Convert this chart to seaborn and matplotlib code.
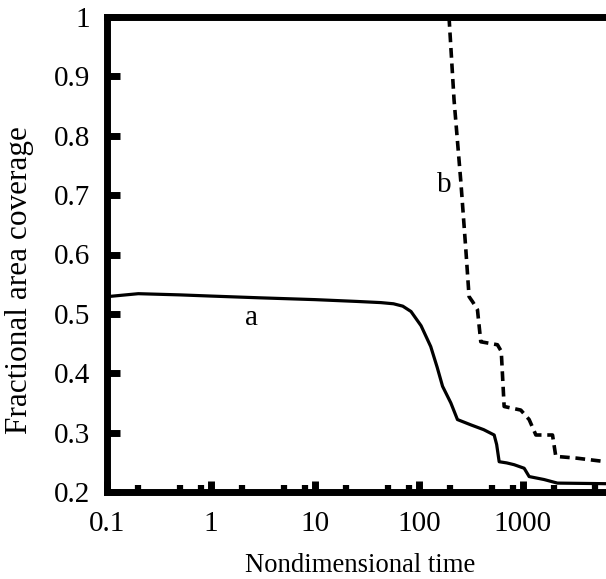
import numpy as np
import pandas as pd
import matplotlib
matplotlib.use("Agg")
import matplotlib.pyplot as plt
import matplotlib.ticker as mticker
import seaborn as sns

# ---- data ----
a_time = [0.1, 0.2, 0.5, 1, 3, 10, 25, 43, 57, 70, 84, 105, 130, 150, 169, 203, 235, 317, 420, 530,
          560, 592, 700, 824, 1030, 1150, 1600, 2150, 6300]
a_cov = [0.529, 0.534, 0.532, 0.530, 0.527, 0.524, 0.521, 0.519, 0.517, 0.513, 0.504, 0.480, 0.445,
         0.410, 0.378, 0.350, 0.322, 0.313, 0.305, 0.296, 0.280, 0.251, 0.249, 0.246, 0.240, 0.226,
         0.221, 0.215, 0.214]

b_time = [195, 218, 254, 283, 304, 330, 366, 394, 570, 620, 661, 955, 1150, 1335, 1930, 2075, 3300, 6300]
b_cov = [1.0, 0.860, 0.720, 0.608, 0.529, 0.520, 0.507, 0.453, 0.448, 0.437, 0.344, 0.338, 0.322,
         0.296, 0.296, 0.260, 0.257, 0.251]

x_ticks = [0.1, 1, 10, 100, 1000]
x_tick_labels = ["0.1", "1", "10", "100", "1000"]
y_ticks = [0.2, 0.3, 0.4, 0.5, 0.6, 0.7, 0.8, 0.9, 1.0]
y_tick_labels = ["0.2", "0.3", "0.4", "0.5", "0.6", "0.7", "0.8", "0.9", "1"]
x_label = "Nondimensional time"
y_label = "Fractional area coverage"

df_a = pd.DataFrame({"t": a_time, "c": a_cov})
df_b = pd.DataFrame({"t": b_time, "c": b_cov})

sns.set_style("ticks")
plt.rcParams["font.family"] = ["Liberation Serif", "DejaVu Serif"]
plt.rcParams["text.color"] = "black"
plt.rcParams["axes.labelcolor"] = "black"
plt.rcParams["xtick.color"] = "black"
plt.rcParams["ytick.color"] = "black"
FS = 21

fig = plt.figure(figsize=(6.06, 5.79), dpi=100)
ax = fig.add_axes([107 / 606, (579 - 492) / 579, (606 - 107) / 606, (492 - 17) / 579])

sns.lineplot(data=df_a, x="t", y="c", ax=ax, color="black", lw=2.3, sort=False, estimator=None)
sns.lineplot(data=df_b, x="t", y="c", ax=ax, color="black", lw=2.6, sort=False, estimator=None)
ax.lines[-1].set_dashes([2.7, 1.6])

ax.set_xscale("log")
ax.set_xlim(0.1, 10 ** 3.8)
ax.set_ylim(0.2, 1.0)

ax.xaxis.set_major_locator(mticker.FixedLocator(x_ticks))
ax.xaxis.set_major_formatter(mticker.FixedFormatter(x_tick_labels))
ax.xaxis.set_minor_locator(mticker.LogLocator(base=10, subs=[2, 5, 8], numticks=20))
ax.xaxis.set_minor_formatter(mticker.NullFormatter())
ax.set_yticks(y_ticks)
ax.set_yticklabels(y_tick_labels)

for s in ["left", "top", "bottom"]:
    ax.spines[s].set_linewidth(5)
    ax.spines[s].set_color("black")
ax.spines["right"].set_visible(False)

ax.tick_params(axis="y", which="major", direction="in", length=9, width=5, pad=12,
               labelsize=FS, left=True, right=False, colors="black")
ax.tick_params(axis="x", which="major", direction="in", length=8, width=5, pad=14,
               labelsize=FS, top=False, colors="black")
ax.tick_params(axis="x", which="minor", direction="in", length=5, width=4.5, top=False,
               colors="black")

ax.set_xlabel(x_label, fontsize=19.2, color="black")
ax.set_ylabel(y_label, fontsize=22.5, color="black")
ax.xaxis.set_label_coords(0.507, -0.128)
ax.yaxis.set_label_coords(-0.146, 0.446)

ax.text(2.43, 0.493, "a", fontsize=FS, ha="center", va="center", color="black")
ax.text(174, 0.717, "b", fontsize=FS, ha="center", va="center", color="black")

fig.savefig("out.png", dpi=100)
